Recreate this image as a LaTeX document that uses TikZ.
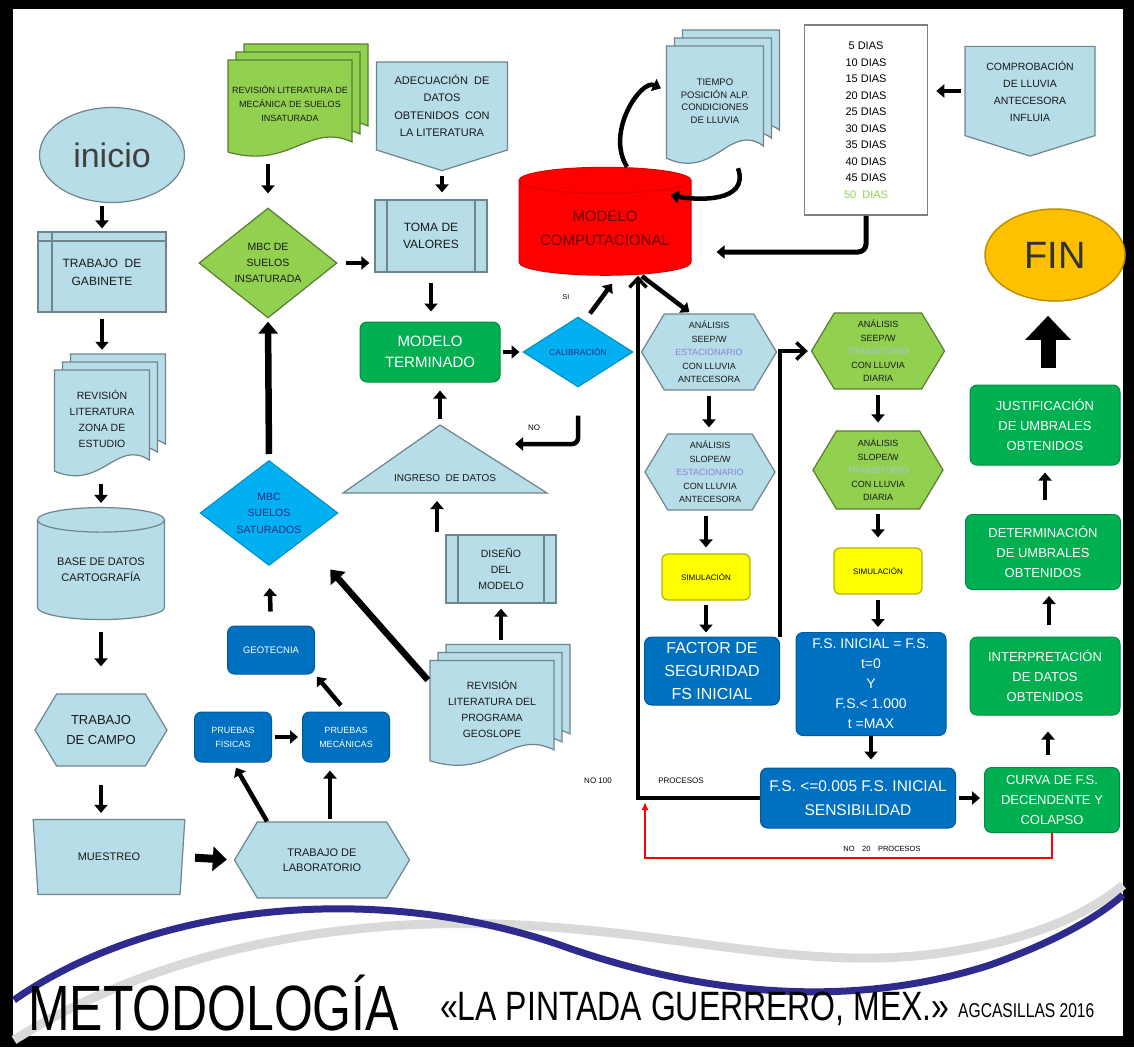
\documentclass[tikz,border=0pt]{standalone}
\usepackage{fontspec}
\setmainfont{Liberation Sans}
\newfontfamily\titulofont{Liberation Sans}[FakeStretch=0.78]
\usepackage{tikz}
\usetikzlibrary{arrows}
\usetikzlibrary{arrows.meta}
\usetikzlibrary{shapes.geometric}
\usetikzlibrary{shapes.symbols}
\usepackage{xcolor}
\definecolor{celeste}{HTML}{B7DDE8}
\definecolor{verdecl}{HTML}{92D050}
\definecolor{verdeos}{HTML}{00B050}
\definecolor{azulcl}{HTML}{00B0F0}
\definecolor{azulos}{HTML}{0070C0}
\definecolor{amarillo}{HTML}{FFFF00}
\definecolor{naranja}{HTML}{FFC000}
\definecolor{marino}{HTML}{2E2B8C}
\definecolor{lila}{HTML}{8585DA}
\definecolor{transit}{HTML}{A9C6DE}
\newcommand{\multidoc}[8]{%
  \foreach \k in {2,1,0}{%
    \filldraw[fill=#1,draw=#1!60!black,line width=1.2pt,shift={(#3+8*\k,#4-8*\k)},xscale=#5,yscale=#6]
      (-0.5,-0.5) -- (0.5,-0.5) -- (0.5,0.32) .. controls (0.15,0.12) and (0,0.6) .. (-0.5,0.42) -- cycle;
  }
  \node[minimum width=#5+16,minimum height=#6+16] (#2) at (#3+8,#4-8) {};
  \node[font=#7,text=black!90] (#2t) at (#3,#4-6) {#8};
}

\begin{document}
\begin{tikzpicture}[x=1pt,y=-1pt]
\tikzstyle{every node}=[align=center,inner sep=0pt]
\tikzstyle{caja}=[draw=celeste!60!black,fill=celeste,line width=1.2pt,text=black!90,font=\fontsize{11}{16}\selectfont]
\tikzstyle{verde}=[draw=verdecl!60!black,fill=verdecl,line width=1.2pt,text=black!90]
\tikzstyle{oscuro}=[rectangle,rounded corners=7pt,fill=verdeos,draw=verdeos!80!black,line width=1pt,text=white,font=\fontsize{13}{20}\selectfont]
\tikzstyle{azul}=[rectangle,rounded corners=7pt,fill=azulos,draw=azulos!80!black,line width=1pt,text=white]
\tikzstyle{rombo}=[diamond,fill=azulcl,draw=azulcl!80!black,line width=1pt,text=marino]
\tikzstyle{simul}=[rectangle,rounded corners=6pt,fill=amarillo,draw=amarillo!70!black,line width=1.2pt,minimum width=88,minimum height=46,font=\fontsize{8}{9}\selectfont]
\tikzstyle{hexa}=[signal,signal to=east and west,signal pointer angle=118,font=\fontsize{9}{13.5}\selectfont]
\tikzstyle{pagina}=[signal,signal to=south,signal pointer angle=145]
\tikzstyle{proceso}=[caja,rectangle,path picture={\draw[celeste!60!black,line width=1.2pt] ([xshift=12pt]path picture bounding box.north west) -- ([xshift=12pt]path picture bounding box.south west) ([xshift=-12pt]path picture bounding box.north east) -- ([xshift=-12pt]path picture bounding box.south east);}]
\tikzstyle{almacen}=[caja,rectangle,path picture={\draw[celeste!60!black,line width=1.2pt] ([xshift=14pt]path picture bounding box.north west) -- ([xshift=14pt]path picture bounding box.south west) ([yshift=-9pt]path picture bounding box.north west) -- ([yshift=-9pt]path picture bounding box.north east);}]
\tikzstyle{flujo}=[line width=4.5pt,-{Triangle[width=13pt,length=8pt]},shorten <=4pt,shorten >=4pt]
\tikzstyle{grueso}=[line width=6.5pt,-{Triangle[width=19pt,length=12pt]},shorten <=4pt,shorten >=4pt]
\tikzstyle{lazo}=[line width=3.5pt,-{Straight Barb[length=9pt,width=17pt]}]
\fill[black] (0,0) rectangle (1134,1047);
\fill[white] (13,9) rectangle (1123,1036);
\useasboundingbox (0,0) rectangle (1134,1047);
\draw[gray!30,line width=9pt] (14,1040) .. controls (150,955) and (330,915) .. (520,925) .. controls (700,935) and (820,975) .. (960,950) .. controls (1050,935) and (1100,905) .. (1123,885);
\draw[marino,line width=7pt] (14,1000) .. controls (150,905) and (370,880) .. (560,945) .. controls (700,995) and (850,1010) .. (990,965) .. controls (1060,940) and (1100,915) .. (1123,895);
\node[font=\titulofont\fontsize{64}{64}\selectfont,anchor=base west] (titulo) at (28,1030) {METODOLOGÍA};
\node[font=\titulofont\fontsize{41}{41}\selectfont,anchor=base west] (lugar) at (440,1020) {«LA PINTADA GUERRERO, MEX.»};
\node[font=\titulofont\fontsize{20}{20}\selectfont,anchor=base west] (autor) at (958,1017) {AGCASILLAS 2016};

\node[caja,ellipse,minimum width=145,minimum height=95,font=\fontsize{34}{36}\selectfont,text=black!75] (inicio) at (112,155) {inicio};
\node[almacen,minimum width=128,minimum height=80,font=\fontsize{12}{18}\selectfont] (gabinete) at (102,272) {TRABAJO\ \ DE\\GABINETE};
\multidoc{celeste}{revzona}{102}{425}{95}{110}{\fontsize{10.5}{16}\selectfont}{REVISIÓN\\LITERATURA\\ZONA DE\\ESTUDIO}
\node[caja,cylinder,shape border rotate=90,aspect=0.28,minimum width=127,minimum height=112] (base) at (101,570) {BASE DE DATOS\\CARTOGRAFÍA};
\node[caja,hexa,minimum width=132,minimum height=72,font=\fontsize{13}{20}\selectfont] (campo) at (101,730) {TRABAJO\\DE CAMPO};
\node[caja,trapezium,trapezium stretches=true,shape border rotate=180,trapezium angle=75,minimum width=152,minimum height=75] (muestreo) at (109,857) {MUESTREO};
\node[caja,hexa,minimum width=175,minimum height=76,font=\fontsize{11}{15}\selectfont] (laboratorio) at (322,860) {TRABAJO DE\\LABORATORIO};
\node[azul,minimum width=77,minimum height=50,font=\fontsize{9}{14}\selectfont] (fisicas) at (233,737) {PRUEBAS\\FISICAS};
\node[azul,minimum width=87,minimum height=50,font=\fontsize{9}{14}\selectfont] (mecanicas) at (346,737) {PRUEBAS\\MECÁNICAS};
\node[azul,minimum width=87,minimum height=48,font=\fontsize{9.5}{11}\selectfont] (geotecnia) at (271,650) {GEOTECNIA};
\node[rombo,minimum width=138,minimum height=102,font=\fontsize{10.5}{16.5}\selectfont] (mbcsat) at (269,513) {MBC\\SUELOS\\SATURADOS};
\node[verde,diamond,minimum width=138,minimum height=110,font=\fontsize{10.5}{16}\selectfont] (mbcinsat) at (268,263) {MBC DE\\SUELOS\\INSATURADA};
\multidoc{verdecl}{revmec}{290}{110}{124}{100}{\fontsize{9}{14}\selectfont}{REVISIÓN LITERATURA DE\\MECÁNICA DE SUELOS\\INSATURADA}
\node[caja,pagina,minimum width=131,minimum height=103,font=\fontsize{11}{17.5}\selectfont] (adecuacion) at (442,106) {ADECUACIÓN\ \ DE\\DATOS\\OBTENIDOS\ \ CON\\LA LITERATURA};
\node[proceso,minimum width=112,minimum height=72,font=\fontsize{12}{16.5}\selectfont] (toma) at (431,236) {TOMA DE\\VALORES};
\node[oscuro,minimum width=140,minimum height=60,font=\fontsize{15}{21}\selectfont] (terminado) at (430,352) {MODELO\\TERMINADO};
\node[rombo,minimum width=110,minimum height=70,font=\fontsize{8.5}{9}\selectfont] (calibracion) at (578,352) {CALIBRACIÓN};
\filldraw[caja] (440,425) -- (547,493) -- (343,493) -- cycle;
\coordinate (ingtop) at (440,425);
\coordinate (ingbase) at (437,495);
\node[font=\fontsize{10}{11}\selectfont,text=black!90] (ingreso) at (445,478) {INGRESO\ \ DE DATOS};
\node[proceso,minimum width=110,minimum height=68,font=\fontsize{10.5}{16}\selectfont] (diseno) at (501,569) {DISEÑO\\DEL\\MODELO};
\multidoc{celeste}{revprog}{492}{715}{124}{109}{\fontsize{10.5}{16}\selectfont}{REVISIÓN\\LITERATURA DEL\\PROGRAMA\\GEOSLOPE}

\node[cylinder,shape border rotate=90,aspect=0.2,fill=red,draw=red!85!black,line width=1pt,minimum width=172,minimum height=108,text=red!40!black,font=\fontsize{15}{24}\selectfont] (modelo) at (605,228) {MODELO\\COMPUTACIONAL};
\multidoc{celeste}{tiempo}{715}{107}{97}{122}{\fontsize{9.5}{12.5}\selectfont}{TIEMPO\\POSICIÓN ALP.\\CONDICIONES\\DE LLUVIA}
\node[draw=gray,fill=white,line width=1.5pt,minimum width=123,minimum height=190,font=\fontsize{11}{16.5}\selectfont] (dias) at (866,120) {5 DIAS\\10 DIAS\\15 DIAS\\20 DIAS\\25 DIAS\\30 DIAS\\35 DIAS\\40 DIAS\\45 DIAS\\{\color{verdecl}50\ \ DIAS}};
\node[caja,pagina,minimum width=130,minimum height=103,font=\fontsize{10.5}{17}\selectfont] (comprob) at (1030,91) {COMPROBACIÓN\\DE LLUVIA\\ANTECESORA\\INFLUIA};
\node[ellipse,fill=naranja,draw=naranja!75!black,line width=1.5pt,minimum width=140,minimum height=92,font=\fontsize{38}{40}\selectfont,text=black!80] (fin) at (1055,255) {FIN};

\node[caja,hexa,minimum width=135,minimum height=76] (seep1) at (709,352) {ANÁLISIS\\SEEP/W\\{\color{lila}ESTACIONARIO}\\CON LLUVIA\\ANTECESORA};
\node[caja,hexa,minimum width=130,minimum height=76] (slope1) at (710,472) {ANÁLISIS\\SLOPE/W\\{\color{lila}ESTACIONARIO}\\CON LLUVIA\\ANTECESORA};
\node[simul] (sim1) at (706,577) {SIMULACIÓN};
\node[azul,minimum width=135,minimum height=68,font=\fontsize{16}{23}\selectfont] (factor) at (712,671) {FACTOR DE\\SEGURIDAD\\FS INICIAL};
\node[verde,hexa,minimum width=133,minimum height=76] (seep2) at (878,351) {ANÁLISIS\\SEEP/W\\{\color{transit}TRANSITORIO}\\CON LLUVIA\\DIARIA};
\node[verde,hexa,minimum width=130,minimum height=78] (slope2) at (878,470) {ANÁLISIS\\SLOPE/W\\{\color{transit}TRANSITORIO}\\CON LLUVIA\\DIARIA};
\node[simul] (sim2) at (878,571) {SIMULACIÓN};
\node[azul,minimum width=150,minimum height=103,font=\fontsize{14}{20}\selectfont] (fsini) at (871,684) {F.S. INICIAL = F.S.\\t=0\\Y\\F.S.< 1.000\\t =MAX};
\node[azul,minimum width=195,minimum height=60,font=\fontsize{15.5}{24}\selectfont] (sens) at (858,798) {F.S. <=0.005 F.S. INICIAL\\SENSIBILIDAD};
\node[oscuro,minimum width=135,minimum height=65] (curva) at (1052,800) {CURVA DE F.S.\\DECENDENTE Y\\COLAPSO};
\node[oscuro,minimum width=150,minimum height=78] (interp) at (1045,676) {INTERPRETACIÓN\\DE DATOS\\OBTENIDOS};
\node[oscuro,minimum width=155,minimum height=75] (determ) at (1043,552) {DETERMINACIÓN\\DE UMBRALES\\OBTENIDOS};
\node[oscuro,minimum width=150,minimum height=80] (justif) at (1045,425) {JUSTIFICACIÓN\\DE UMBRALES\\OBTENIDOS};

\node[font=\fontsize{7}{8}\selectfont] (si) at (566,297) {SI};
\node[font=\fontsize{8}{9}\selectfont] (no) at (534,428) {NO};
\node[font=\fontsize{8}{9}\selectfont] (no100) at (598,781) {NO 100};
\node[font=\fontsize{8}{9}\selectfont] (procesos) at (681,781) {PROCESOS};
\node[font=\fontsize{7.5}{9}\selectfont] (no20) at (882,849) {NO\quad 20\quad PROCESOS};
\coordinate (noend) at (515,444);
\coordinate (rojofin) at (645,802);

\draw[flujo,shorten <=3pt,shorten >=3pt] (gabinete.north |- inicio.south) -- (gabinete.north);
\draw[flujo,shorten <=6pt] (gabinete.south) -- (gabinete.south |- revzona.north);
\draw[flujo,shorten <=4pt] (base.north |- revzona.south) -- (base.north);
\draw[flujo,shorten <=12pt,shorten >=27pt] (base.south) -- (campo.north);
\draw[flujo,shorten <=18pt,shorten >=6pt] (campo.south) -- (campo.south |- muestreo.north);
\draw[grueso,line width=8pt,-{Triangle[width=24pt,length=14pt]},shorten <=12pt,shorten >=7pt] (muestreo.east) -- (laboratorio.west);
\draw[flujo,shorten <=0pt,shorten >=6pt] ([xshift=-55pt]laboratorio.north) -- (fisicas.south);
\draw[flujo,shorten <=2pt,shorten >=8pt] ([xshift=-16pt]mecanicas.south |- laboratorio.north) -- ([xshift=-16pt]mecanicas.south);
\draw[flujo,shorten <=3pt,shorten >=4pt] (fisicas.east) -- (mecanicas.west);
\draw[flujo,shorten <=8pt,shorten >=3pt] (mecanicas.north) -- (geotecnia.south east);
\draw[flujo,shorten <=14pt,shorten >=22pt] (geotecnia.north) -- (mbcsat.south);
\draw[grueso,shorten <=6pt,shorten >=3pt] (mbcsat.north) -- (mbcinsat.south);
\draw[grueso,shorten <=3pt,shorten >=40pt] ([yshift=-38pt]revprog.north west) -- (mbcsat.south east);
\draw[flujo,shorten >=14pt] (mbcinsat.north |- revmec.south) -- (mbcinsat.north);
\draw[flujo,shorten <=8pt,shorten >=5pt] (mbcinsat.east) -- (mbcinsat.east -| toma.west);
\draw[flujo,shorten <=5pt,shorten >=7pt] (adecuacion.south) -- (adecuacion.south |- toma.north);
\draw[flujo,shorten <=10pt,shorten >=10pt] (toma.south) -- (toma.south |- terminado.north);
\draw[flujo,shorten <=2pt,shorten >=3pt] (terminado.east) -- (calibracion.west);
\draw[flujo,shorten <=0pt,shorten >=0pt] ([xshift=12pt,yshift=3pt]calibracion.north) -- ([xshift=7pt,yshift=-8pt]modelo.south);
\draw[flujo,rounded corners=6pt,shorten <=0pt,shorten >=0pt] ([yshift=-28pt]calibracion.south) |- (noend);
\draw[flujo,shorten <=6pt,shorten >=8pt] (ingtop) -- (ingtop |- terminado.south);
\draw[flujo,shorten <=2pt,shorten >=6pt] (ingbase |- diseno.north) -- (ingbase);
\draw[flujo,shorten <=4pt,shorten >=5pt] (diseno.south |- revprog.north) -- (diseno.south);

\draw[flujo,shorten <=4pt,shorten >=2pt] ([xshift=-12pt]modelo.south east) -- ([xshift=-18pt]seep1.north);
\draw[flujo,shorten <=5pt,shorten >=6pt] (seep1.south) -- (seep1.south |- slope1.north);
\draw[flujo,shorten <=5pt,shorten >=6pt] (sim1.north |- slope1.south) -- (sim1.north);
\draw[flujo,shorten <=4pt,shorten >=4pt] (sim1.south) -- (sim1.south |- factor.north);
\draw[lazo,shorten >=3pt] (factor.north east) |- (seep2.west);
\draw[flujo,shorten <=5pt,shorten >=8pt] (seep2.south) -- (slope2.north);
\draw[flujo,shorten <=4pt,shorten >=10pt] (slope2.south) -- (sim2.north);
\draw[flujo,shorten <=5pt,shorten >=5pt] (sim2.south) -- (sim2.south |- fsini.north);
\draw[flujo,shorten <=0pt,shorten >=8pt] (fsini.south) -- (fsini.south |- sens.north);
\draw[flujo,shorten <=3pt,shorten >=4pt] (sens.east) -- (sens.east -| curva.west);
\draw[lazo] (sens.west) -| ([xshift=33pt]modelo.south);
\draw[red,line width=2pt,-{Latex[length=8pt,width=7pt]}] (curva.south) -- ++(0,25) -| (rojofin);
\draw[flujo,shorten <=12pt,shorten >=16pt] ([xshift=-4pt]curva.north) -- ([xshift=-4pt]curva.north |- interp.south);
\draw[flujo,shorten <=12pt,shorten >=6pt] ([xshift=4pt]interp.north) -- ([xshift=4pt]interp.north |- determ.south);
\draw[flujo,shorten <=14pt,shorten >=7pt] ([xshift=2pt]determ.north) -- ([xshift=2pt]determ.north |- justif.south);
\draw[line width=15pt,-{Triangle[width=44pt,length=24pt]},shorten <=17pt,shorten >=14pt] ([xshift=3pt]justif.north) -- ([xshift=3pt]justif.north |- fin.south);

\draw[flujo,shorten <=3pt,shorten >=8pt] (comprob.west) -- (comprob.west -| dias.east);
\draw[flujo,line width=5pt,rounded corners=8pt,shorten <=0pt,shorten >=25pt] (dias.south) |- ([yshift=-24pt]modelo.east);
\draw[flujo,shorten <=0pt,shorten >=6pt] ([xshift=22pt]modelo.north) .. controls +(-22,-35) and +(-25,-12) .. ([yshift=8pt]tiempo.west);
\draw[flujo,shorten <=0pt,shorten >=0pt] ([xshift=15pt]tiempo.south) .. controls +(12,35) and +(25,5) .. ([xshift=8pt,yshift=-25pt]modelo.north east);
\end{tikzpicture}
\end{document}
